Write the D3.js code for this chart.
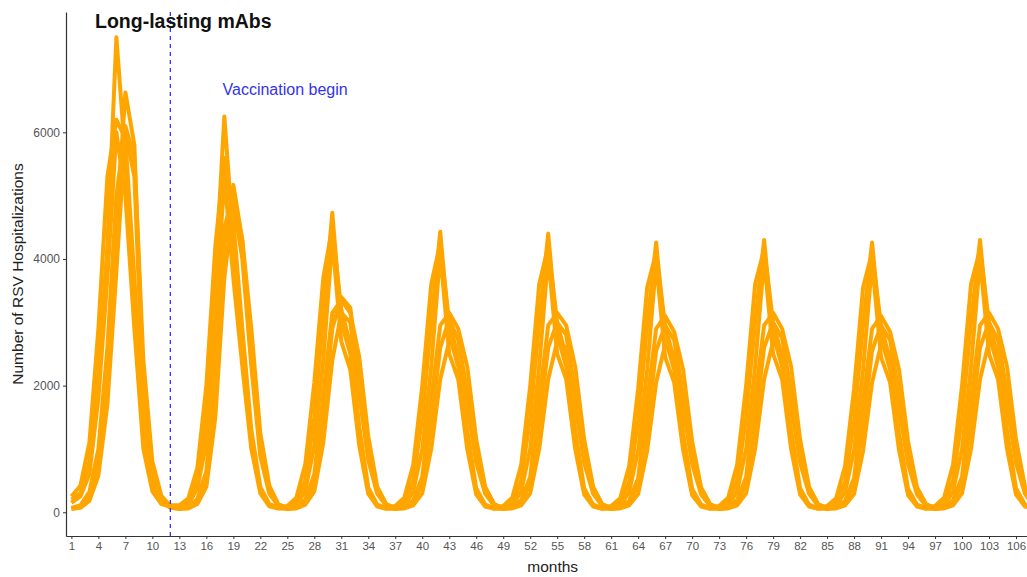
<!DOCTYPE html>
<html>
<head>
<meta charset="utf-8">
<script src="https://cdn.jsdelivr.net/npm/d3@7"></script>
<style>
  body { margin: 0; background: #fff; }
  svg { display: block; overflow: hidden; }
  text { font-family: "Liberation Sans", Arial, sans-serif; }
</style>
</head>
<body>
<div id="chart"></div>
<script>
// months 1..108 (factor axis, labels every 3rd month)
const months = d3.range(1, 109);
const tickMonths = d3.range(1, 109, 3);
const yTicks = [0, 2000, 4000, 6000];
const vaccStart = 12;

// simulated runs, early group (peaks at month 6, 18, 30 ...)
const runA1 = [
  200, 300, 800, 2200, 4200, 7500, 5600, 3400, 1200, 400, 150, 100,
  90, 150, 500, 1500, 3700, 6250, 4300, 2700, 1150, 350, 110, 70,
  70, 150, 500, 1500, 3100, 4730, 3000, 2500, 1200, 340, 100, 60,
  70, 150, 500, 1500, 3000, 4430, 2800, 2300, 1150, 320, 100, 60,
  70, 150, 500, 1500, 3000, 4400, 2800, 2300, 1150, 320, 100, 60,
  70, 150, 480, 1450, 2950, 4260, 2750, 2250, 1100, 310, 100, 60,
  70, 150, 500, 1500, 3000, 4300, 2800, 2300, 1150, 320, 100, 60,
  70, 150, 480, 1450, 2950, 4260, 2750, 2250, 1100, 310, 100, 60,
  70, 150, 500, 1500, 3000, 4300, 2800, 2300, 1150, 320, 100, 60
];
const runA2 = [
  150, 250, 600, 1800, 3700, 6000, 5000, 2900, 1000, 330, 130, 90,
  80, 120, 380, 1100, 3000, 5300, 3700, 2300, 1000, 300, 95, 60,
  55, 100, 340, 1050, 2400, 4300, 2700, 2250, 1050, 290, 90, 55,
  55, 100, 330, 1000, 2300, 4100, 2500, 2100, 1000, 280, 90, 55,
  55, 100, 330, 1000, 2300, 4050, 2500, 2100, 1000, 280, 90, 55,
  55, 100, 320, 980, 2250, 3950, 2450, 2050, 980, 270, 90, 55,
  55, 100, 330, 1000, 2300, 4000, 2500, 2100, 1000, 280, 90, 55,
  55, 100, 320, 980, 2250, 3950, 2450, 2050, 980, 270, 90, 55,
  55, 100, 330, 1000, 2300, 4000, 2500, 2100, 1000, 280, 90, 55
];
const runA3 = [
  250, 420, 1100, 2900, 5300, 6200, 5900, 3700, 1300, 450, 170, 110,
  110, 220, 700, 2000, 4200, 5600, 4600, 2900, 1300, 400, 130, 80,
  100, 230, 760, 2050, 3700, 4500, 3200, 2650, 1350, 390, 120, 70,
  100, 230, 750, 2000, 3600, 4250, 3000, 2450, 1300, 380, 120, 70,
  100, 230, 750, 2000, 3600, 4200, 3000, 2450, 1300, 380, 120, 70,
  100, 220, 730, 1950, 3550, 4100, 2950, 2400, 1250, 370, 120, 70,
  100, 230, 750, 2000, 3600, 4150, 3000, 2450, 1300, 380, 120, 70,
  100, 220, 730, 1950, 3550, 4100, 2950, 2400, 1250, 370, 120, 70,
  100, 230, 750, 2000, 3600, 4150, 3000, 2450, 1300, 380, 120, 70
];
// late group (about one month behind)
const runB1 = [
  60, 90, 250, 800, 2200, 4500, 6630, 5800, 2000, 600, 200, 80,
  60, 80, 180, 550, 2000, 4200, 5170, 4300, 2500, 1000, 330, 110,
  60, 70, 160, 480, 1500, 2900, 3400, 3230, 2050, 950, 340, 110,
  60, 70, 150, 450, 1400, 2600, 3050, 2720, 1900, 900, 330, 110,
  60, 70, 150, 450, 1400, 2600, 3000, 2800, 1900, 900, 330, 110,
  60, 70, 150, 430, 1350, 2550, 2950, 2720, 1850, 880, 320, 110,
  60, 70, 150, 450, 1400, 2600, 3000, 2750, 1900, 900, 330, 110,
  60, 70, 150, 430, 1350, 2550, 2950, 2720, 1850, 880, 320, 110,
  60, 70, 150, 450, 1400, 2600, 3000, 2720, 1900, 900, 330, 110
];
const runB2 = [
  50, 70, 180, 580, 1700, 3800, 6000, 5300, 1800, 520, 170, 70,
  50, 60, 130, 400, 1500, 3700, 4900, 4000, 2300, 880, 290, 100,
  50, 60, 120, 330, 1100, 2400, 3150, 3000, 1850, 820, 290, 100,
  50, 60, 110, 300, 1000, 2100, 2700, 2550, 1700, 780, 290, 100,
  50, 60, 110, 300, 1000, 2100, 2700, 2600, 1700, 780, 290, 100,
  50, 60, 110, 290, 970, 2050, 2650, 2500, 1650, 760, 280, 100,
  50, 60, 110, 300, 1000, 2100, 2700, 2550, 1700, 780, 290, 100,
  50, 60, 110, 290, 970, 2050, 2650, 2500, 1650, 760, 280, 100,
  50, 60, 110, 300, 1000, 2100, 2700, 2550, 1700, 780, 290, 100
];
const runB3 = [
  70, 110, 320, 1000, 2600, 5000, 6100, 5600, 2400, 800, 260, 100,
  70, 90, 210, 650, 2300, 4500, 5000, 4300, 2900, 1250, 420, 130,
  70, 90, 200, 600, 1850, 3150, 3350, 3150, 2450, 1200, 400, 130,
  70, 90, 190, 560, 1800, 2950, 3150, 2900, 2300, 1150, 400, 130,
  70, 90, 190, 560, 1800, 2950, 3150, 2950, 2300, 1150, 400, 130,
  70, 90, 180, 540, 1750, 2900, 3100, 2850, 2250, 1120, 390, 130,
  70, 90, 190, 560, 1800, 2950, 3150, 2900, 2300, 1150, 400, 130,
  70, 90, 180, 540, 1750, 2900, 3100, 2850, 2250, 1120, 390, 130,
  70, 90, 190, 560, 1800, 2950, 3150, 2900, 2300, 1150, 400, 130
];
const runs = [runA1, runA2, runA3, runB1, runB2, runB3];

const width = 1027, height = 577;
const panelLeft = 66, panelTop = 12, panelBottom = 536, panelRight = 1039.4;

const svg = d3.select("#chart")
  .append("svg")
    .attr("width", width)
    .attr("height", height);

// discrete months with 0.6 padding each side, panel runs past the right edge
const x = d3.scaleLinear()
    .domain([0.4, 108.6])
    .range([panelLeft, panelRight]);

const y = d3.scaleLinear()
    .domain([-375, 7900])
    .range([panelBottom, panelTop]);

const line = d3.line()
    .x((d, i) => x(months[i]))
    .y(d => y(d));

svg.append("g")
  .selectAll("path")
  .data(runs)
  .join("path")
    .attr("d", line)
    .attr("fill", "none")
    .attr("stroke", "#FFA500")
    .attr("stroke-width", 4)
    .attr("stroke-linejoin", "round");

// vaccination start marker
svg.append("line")
    .attr("x1", x(vaccStart)).attr("x2", x(vaccStart))
    .attr("y1", panelTop).attr("y2", panelBottom)
    .attr("stroke", "#3333ff")
    .attr("stroke-width", 1.3)
    .attr("stroke-dasharray", "4,4");

svg.append("text")
    .attr("x", x(17.8))
    .attr("y", 95)
    .attr("fill", "#3333ee")
    .attr("font-size", 16)
    .text("Vaccination begin");

// axes
const xAxis = svg.append("g")
    .attr("transform", `translate(0,${panelBottom})`)
    .call(d3.axisBottom(x).tickValues(tickMonths).tickSize(3).tickPadding(3).tickSizeOuter(0));

const yAxis = svg.append("g")
    .attr("transform", `translate(${panelLeft},0)`)
    .call(d3.axisLeft(y).tickValues(yTicks).tickFormat(d3.format("d"))
      .tickSize(3).tickPadding(3).tickSizeOuter(0));

[xAxis, yAxis].forEach(g => {
  g.select(".domain").attr("stroke", "#333").attr("stroke-width", 1.2);
  g.selectAll(".tick line").attr("stroke", "#333");
  g.selectAll(".tick text")
    .attr("fill", "#555")
    .attr("font-family", "Liberation Sans, Arial, sans-serif");
});
xAxis.selectAll(".tick text").attr("font-size", 11.5);
yAxis.selectAll(".tick text").attr("font-size", 12);

// axis titles
svg.append("text")
    .attr("x", (panelLeft + panelRight) / 2)
    .attr("y", 572)
    .attr("text-anchor", "middle")
    .attr("font-size", 15.5)
    .attr("fill", "#222")
    .text("months");

svg.append("text")
    .attr("transform", `translate(23,${(panelTop + panelBottom) / 2}) rotate(-90)`)
    .attr("text-anchor", "middle")
    .attr("font-size", 15.5)
    .attr("fill", "#222")
    .text("Number of RSV Hospitalizations");

// panel title
svg.append("text")
    .attr("x", 95)
    .attr("y", 28)
    .attr("font-size", 19.5)
    .attr("font-weight", "bold")
    .attr("fill", "#111")
    .text("Long-lasting mAbs");
</script>
</body>
</html>
